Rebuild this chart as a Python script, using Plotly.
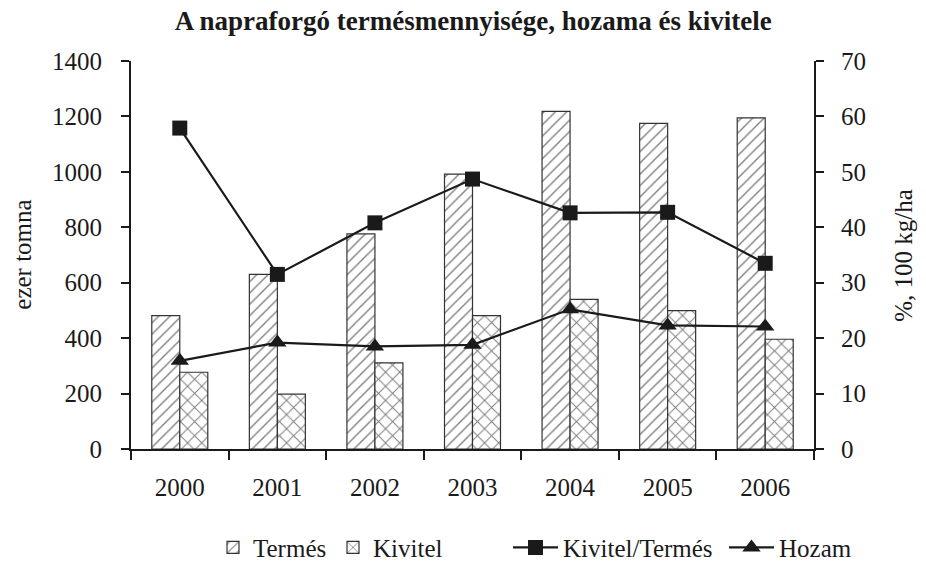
import plotly.graph_objects as go

years = ["2000", "2001", "2002", "2003", "2004", "2005", "2006"]
termes = [481, 630, 776, 992, 1218, 1175, 1195]
kivitel = [277, 198, 311, 481, 540, 499, 396]
kiv_per_term = [57.9, 31.5, 40.8, 48.7, 42.6, 42.7, 33.5]
hozam = [15.9, 19.2, 18.5, 18.8, 25.2, 22.3, 22.1]

FONT = "Liberation Serif"
FS = 25
INK = "#1a1a1a"

fig = go.Figure()
fig.add_trace(go.Bar(
    x=years, y=termes, name="Termés", legend="legend",
    marker=dict(color="white", line=dict(color="#333", width=1.2),
                pattern=dict(shape="/", fgcolor="black", size=8, solidity=0.17)),
))
fig.add_trace(go.Bar(
    x=years, y=kivitel, name="Kivitel", legend="legend2",
    marker=dict(color="white", line=dict(color="#333", width=1.2),
                pattern=dict(shape="x", fgcolor="black", size=10, solidity=0.19)),
))
fig.add_trace(go.Scatter(
    x=years, y=kiv_per_term, name="Kivitel/Termés", yaxis="y2", legend="legend3",
    mode="lines+markers", line=dict(color=INK, width=2.2),
    marker=dict(symbol="square", size=15, color=INK),
))
fig.add_trace(go.Scatter(
    x=years, y=hozam, name="Hozam", yaxis="y2", legend="legend4",
    mode="lines+markers", line=dict(color=INK, width=2.2),
    marker=dict(symbol="triangle-up", size=16, color=INK),
))

PW = 926 - 131 - 112


def leg(px_left, iw):
    return dict(x=(px_left - 131) / PW, xanchor="left", y=-0.195, yanchor="top",
                orientation="h", font=dict(family=FONT, size=FS, color=INK),
                itemwidth=iw, bgcolor="rgba(0,0,0,0)")


fig.update_layout(
    width=926, height=584,
    margin=dict(l=131, r=112, t=61, b=135, autoexpand=False),
    paper_bgcolor="white", plot_bgcolor="white",
    font=dict(family=FONT, size=FS, color=INK),
    title=dict(text="<b>A napraforgó termésmennyisége, hozama és kivitele</b>",
               x=0.511, xanchor="center", y=0.965, yanchor="middle",
               font=dict(family=FONT, size=27, color=INK)),
    barmode="group", bargap=0.426, bargroupgap=0,
    xaxis=dict(showline=True, linecolor=INK, linewidth=2,
               ticks="outside", tickson="boundaries", ticklen=9, tickwidth=2,
               tickcolor=INK, showgrid=False, ticklabelstandoff=15),
    yaxis=dict(range=[0, 1400], dtick=200, showline=True, linecolor=INK,
               linewidth=2, ticks="outside", ticklen=8, tickwidth=2,
               tickcolor=INK, showgrid=False, zeroline=False,
               ticklabelstandoff=14),
    yaxis2=dict(range=[0, 70], dtick=10, overlaying="y", side="right",
                showline=True, linecolor=INK, linewidth=2,
                ticks="outside", ticklen=8, tickwidth=2, tickcolor=INK,
                showgrid=False, zeroline=False, ticklabelstandoff=12),
    legend=leg(213, 30),
    legend2=leg(333, 30),
    legend3=leg(508, 45),
    legend4=leg(724, 45),
    showlegend=True,
    annotations=[
        dict(text="ezer tomna", xref="paper", yref="paper", x=-0.16, y=0.5,
             xanchor="center", yanchor="middle", textangle=-90,
             showarrow=False, font=dict(family=FONT, size=FS)),
        dict(text="%, 100 kg/ha", xref="paper", yref="paper", x=1.13, y=0.5,
             xanchor="center", yanchor="middle", textangle=-90,
             showarrow=False, font=dict(family=FONT, size=FS)),
    ],
)

fig.write_html("out.html", config={"displayModeBar": False},
               post_script="document.body.style.margin='0';document.body.style.overflow='hidden';")
